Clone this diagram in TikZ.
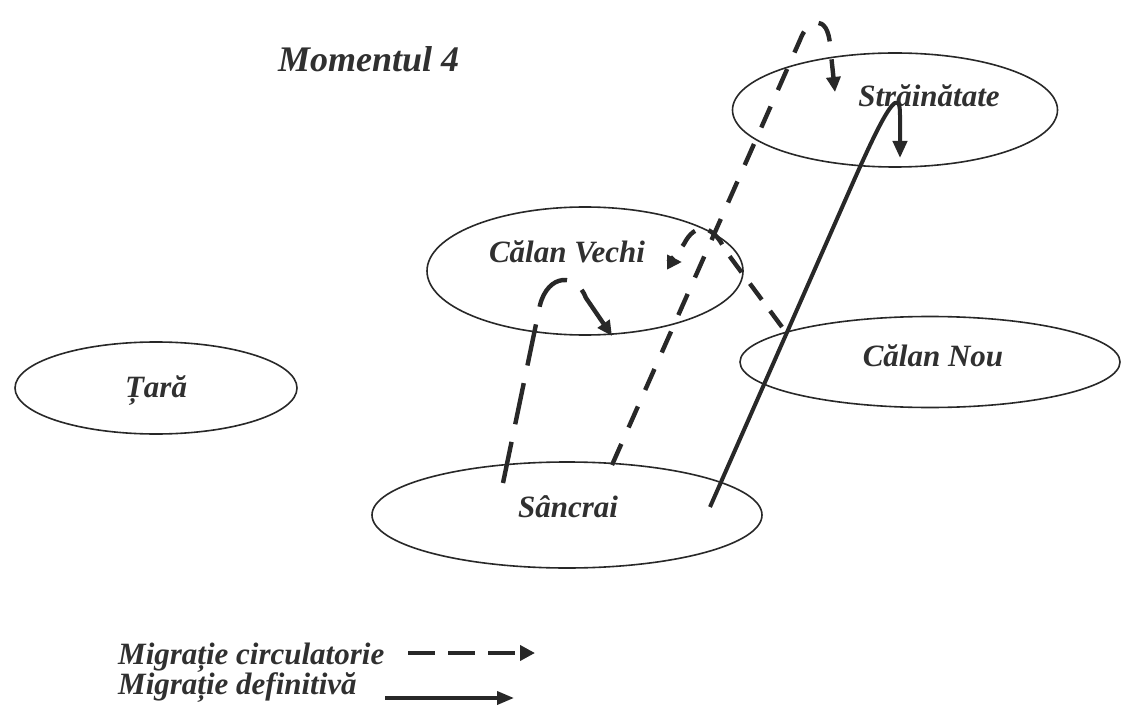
\documentclass[tikz,border=0pt]{standalone}
\usepackage{fontspec}
\setmainfont{Liberation Serif}
\usetikzlibrary{shapes.geometric,arrows.meta}
\definecolor{ink}{RGB}{40,40,40}
\definecolor{txt}{RGB}{48,48,48}
\begin{document}
\begin{tikzpicture}[x=1pt,y=-1pt,
  place/.style={ellipse,draw=ink,line width=1.6pt,inner sep=0pt},
  lbl/.style={anchor=base,inner sep=0pt,text=txt,font=\fontsize{31}{36}\selectfont\bfseries\itshape},
  circ/.style={draw=ink,line width=4.4pt,dash pattern=on 23pt off 18pt,-{Triangle[length=15pt,width=14pt]}},
  defin/.style={draw=ink,line width=4pt,-{Triangle[length=17pt,width=14pt]}},
]
\useasboundingbox (0,0) rectangle (1121,711);
\fill[white] (0,0) rectangle (1121,711);

% places
\node[place,minimum width=325pt,minimum height=114pt] (str) at (895,110) {};
\node[place,minimum width=380pt,minimum height=91pt] (cn) at (930,362) {};
\node[place,minimum width=316pt,minimum height=128pt] (cv) at (585,271) {};
\node[place,minimum width=282pt,minimum height=92pt] (tara) at (156,388) {};
\node[place,minimum width=390pt,minimum height=106pt] (san) at (567,515) {};

% labels
\node[lbl,font=\fontsize{36}{40}\selectfont\bfseries\itshape,anchor=base west] (title) at (278,72) {Momentul 4};
\node[lbl] (tstr) at (929,107) {Străinătate};
\node[lbl] (tcv) at (567,262) {Călan Vechi};
\node[lbl] (tcn) at (933,366) {Călan Nou};
\node[lbl] (ttara) at (156,397) {Țară};
\node[lbl] (tsan) at (568,517) {Sâncrai};

% connector end points
\coordinate (c1s) at (503,483);
\coordinate (c1e) at (612,336);
\coordinate (c2s) at (612,465);
\coordinate (c2e) at (835,92);
\coordinate (c3s) at (782,327);
\coordinate (c3e) at (682,262);
\coordinate (d1s) at (710,507);
\coordinate (d1e) at (900,158);

% Sâncrai -> Călan Vechi (circulatory)
\draw[circ,dash pattern=on 42pt off 18pt] (c1s) -- (540,305) .. controls (548,274) and (576,272) .. (586,298) -- (c1e);
% Sâncrai -> Străinătate (circulatory)
\draw[circ] (c2s) -- (800,40) .. controls (808,18) and (828,14) .. (830,45) -- (c2e);
% Călan Nou -> Călan Vechi (circulatory)
\draw[circ,dash pattern=on 20pt off 14pt] (c3s) -- (725,250) .. controls (713,224) and (695,222) .. (684,244) .. controls (676,256) and (668,262) .. (c3e);
% Sâncrai -> Străinătate (definitive)
\draw[defin] (d1s) -- (855,178) .. controls (872,140) and (887,108) .. (895,103) .. controls (900,100) and (900,110) .. (900,118) -- (d1e);

% legend
\node[lbl,anchor=base west] (l1) at (118,664) {Migrație circulatorie};
\node[lbl,anchor=base west] (l2) at (118,694) {Migrație definitivă};
\coordinate (l1s) at (408,653);
\coordinate (l1e) at (535,653);
\coordinate (l2s) at (385,698);
\coordinate (l2e) at (514,698);
\draw[circ,line width=4.6pt,dash pattern=on 27pt off 13pt,-{Triangle[length=15pt,width=15pt]}] (l1s) -- (l1e);
\draw[defin,line width=3.6pt,-{Triangle[length=17pt,width=13pt]}] (l2s) -- (l2e);
\end{tikzpicture}
\end{document}
